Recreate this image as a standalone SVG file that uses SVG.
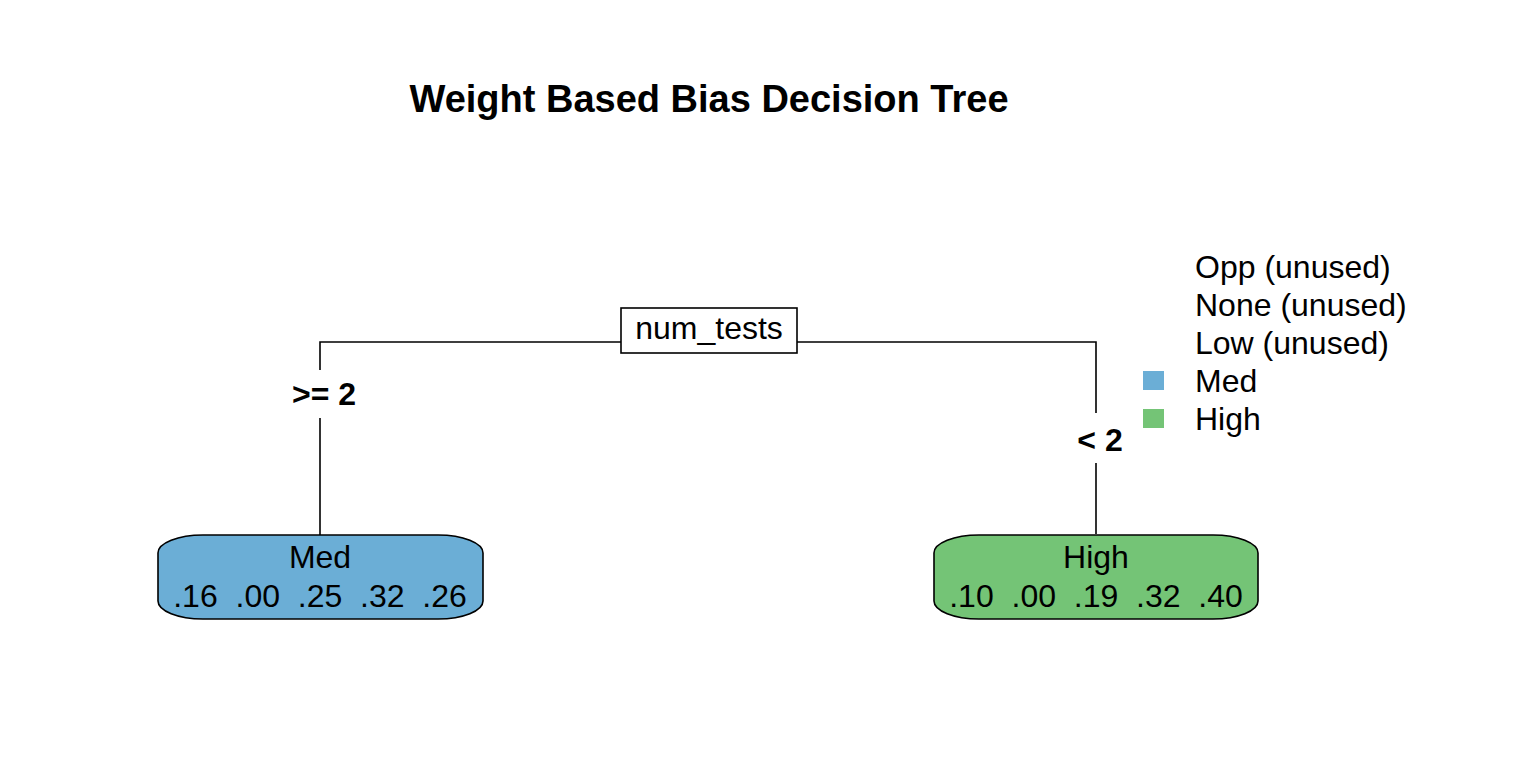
<svg xmlns="http://www.w3.org/2000/svg" width="1522" height="760" viewBox="0 0 1522 760">
<style>
text{font-family:"Liberation Sans",Arial,Helvetica,sans-serif;fill:#000}
.t{font-size:32px}
.b{font-size:32px;font-weight:bold}
.title{font-size:38px;font-weight:bold}
.line{stroke:#000;stroke-width:1.6;fill:none}
.box{stroke:#000;stroke-width:1.6}
</style>
<rect width="1522" height="760" fill="#fff"/>
<text class="title" x="709" y="112" text-anchor="middle">Weight Based Bias Decision Tree</text>
<g id="connectors">
<polyline class="line" points="621,342 320,342 320,370"/>
<line class="line" x1="320" y1="418" x2="320" y2="535"/>
<polyline class="line" points="797,342 1096,342 1096,413"/>
<line class="line" x1="1096" y1="463" x2="1096" y2="534"/>
<text class="b" x="324" y="405" text-anchor="middle">&gt;= 2</text>
<text class="b" x="1100" y="451" text-anchor="middle">&lt; 2</text>
</g>
<g id="node-split">
<rect class="box" x="621" y="308" width="176" height="45" fill="#fff"/>
<text class="t" x="709" y="339" text-anchor="middle">num_tests</text>
</g>
<g id="node-med">
<path class="box" fill="#6BAED6" d="M203,535 H438 A45 18 0 0 1 483,553 V601 A45 18 0 0 1 438,619 H203 A45 18 0 0 1 158,601 V553 A45 18 0 0 1 203,535 Z"/>
<text class="t" x="320" y="568" text-anchor="middle">Med</text>
<text class="t" x="320" y="607" text-anchor="middle" xml:space="preserve">.16  .00  .25  .32  .26</text>
</g>
<g id="node-high">
<path class="box" fill="#74C476" d="M979,535 H1213 A45 18 0 0 1 1258,553 V601 A45 18 0 0 1 1213,619 H979 A45 18 0 0 1 934,601 V553 A45 18 0 0 1 979,535 Z"/>
<text class="t" x="1096" y="568" text-anchor="middle">High</text>
<text class="t" x="1096" y="607" text-anchor="middle" xml:space="preserve">.10  .00  .19  .32  .40</text>
</g>
<g id="legend">
<text class="t" x="1195" y="278">Opp (unused)</text>
<text class="t" x="1195" y="316">None (unused)</text>
<text class="t" x="1195" y="354">Low (unused)</text>
<rect x="1143" y="371" width="21" height="19" fill="#6BAED6"/>
<text class="t" x="1195" y="392">Med</text>
<rect x="1143" y="409" width="21" height="19" fill="#74C476"/>
<text class="t" x="1195" y="430">High</text>
</g>
</svg>
